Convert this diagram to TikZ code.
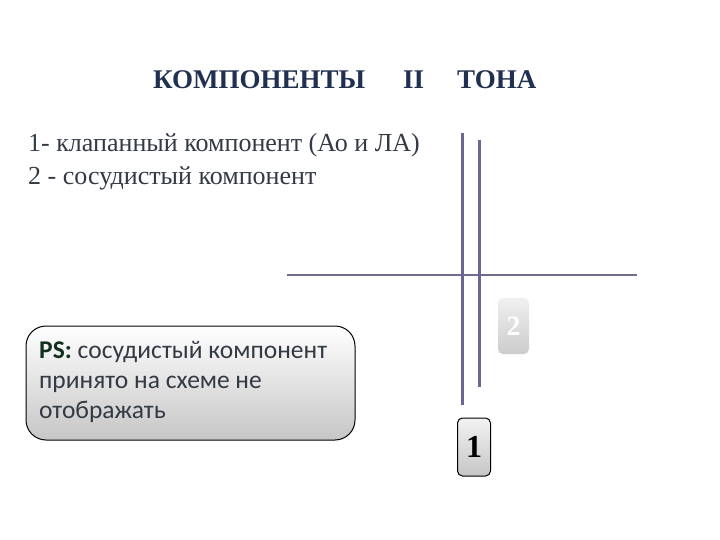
\documentclass[tikz,border=0pt]{standalone}
\usepackage{fontspec}
\setmainfont{Liberation Serif}
\newfontfamily\calib{Carlito}
\usetikzlibrary{shadings}
\definecolor{navy}{HTML}{1F3050}
\definecolor{txtgray}{HTML}{333A44}
\definecolor{lineviolet}{HTML}{6E6496}
\definecolor{hline}{HTML}{736C8E}
\definecolor{psgreen}{HTML}{13301F}
\tikzset{
  vline/.style={lineviolet, line width=3pt},
  hl/.style={hline, line width=2pt},
  title/.style={font=\fontsize{27}{32}\selectfont\bfseries, text=navy, anchor=base west, inner sep=0},
  body/.style={font=\fontsize{26}{30}\selectfont, text=txtgray, anchor=base west, inner sep=0},
  psbox/.style={draw=black, line width=1pt, rounded corners=20pt, top color=white, bottom color=gray!45},
  numbox/.style={rounded corners=5pt, minimum width=33pt, minimum height=58pt, inner sep=0},
}
\begin{document}
\begin{tikzpicture}[x=1pt,y=-1pt]
\useasboundingbox (0,0) rectangle (720,540);
% title
\node[title] (t1) at (153,89) {КОМПОНЕНТЫ};
\node[title] (t2) at (403,89) {II};
\node[title] (t3) at (457,89) {ТОНА};
% body
\node[body] (l1) at (28,152) {1- клапанный компонент (Ао и ЛА)};
\node[body] (l2) at (28,185) {2 - сосудистый компонент};
% lines
\coordinate (v1a) at (462,133); \coordinate (v1b) at (462,405);
\coordinate (v2a) at (479,140); \coordinate (v2b) at (479,387);
\coordinate (ha) at (287,275); \coordinate (hb) at (637,275);
\draw[hl] (ha) -- (hb);
\draw[vline] (v1a) -- (v1b);
\draw[vline] (v2a) -- (v2b);
% box 2 (faded)
\node[numbox, top color=gray!12, bottom color=gray!40, minimum width=31pt, minimum height=56pt,
      font=\fontsize{28}{32}\selectfont\bfseries, text=white] (b2) at (513.5,326) {2};
% box 1
\node[numbox, draw=black, line width=1pt, top color=gray!10, bottom color=gray!45,
      font=\fontsize{32}{36}\selectfont\bfseries, text=black] (b1) at (474,447) {1};
% PS box
\node[psbox, minimum width=329pt, minimum height=114pt, inner sep=0] (ps) at (190.5,383) {};
\node[font=\calib\fontsize{25.5}{30}\selectfont, text=txtgray, align=left, anchor=north west, inner sep=0] (pst) at (39,341)
 {{\bfseries\color{psgreen}PS:} сосудистый компонент\\принято на схеме не\\отображать};
\end{tikzpicture}
\end{document}
